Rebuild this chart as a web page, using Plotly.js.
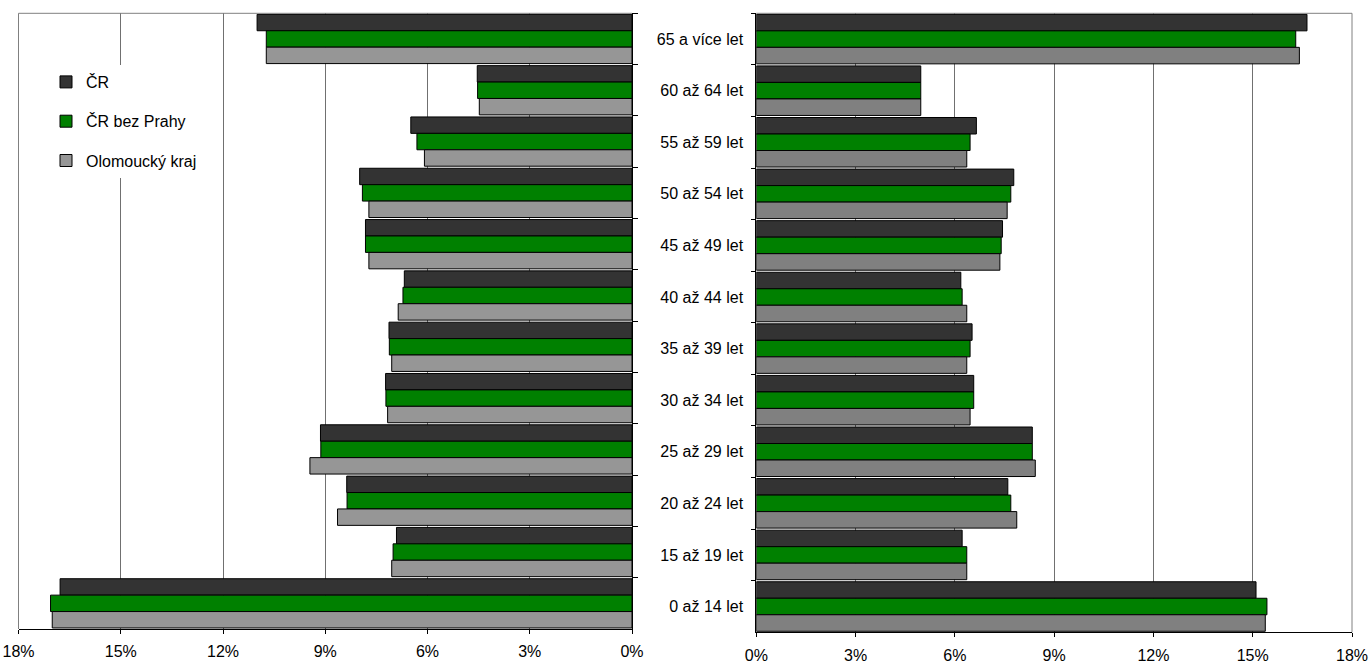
<!DOCTYPE html>
<html>
<head>
<meta charset="utf-8">
<script src="https://cdn.plot.ly/plotly-3.0.1.min.js"></script>
<style>html,body{margin:0;padding:0;background:#fff;}#chart{width:1370px;height:662px;}</style>
</head>
<body>
<div id="chart"></div>
<script>
const categories = ["65 a více let","60 až 64 let","55 až 59 let","50 až 54 let","45 až 49 let","40 až 44 let","35 až 39 let","30 až 34 let","25 až 29 let","20 až 24 let","15 až 19 let","0 až 14 let"];
const seriesNames = ["ČR", "ČR bez Prahy", "Olomoucký kraj"];

// left panel
const crLeft      = [11.00, 4.54, 6.49, 7.99, 7.82, 6.68, 7.13, 7.23, 9.14, 8.37, 6.91, 16.78];
const crBezLeft   = [10.73, 4.53, 6.31, 7.91, 7.82, 6.72, 7.12, 7.22, 9.13, 8.36, 7.01, 17.06];
const olomLeft    = [10.73, 4.48, 6.09, 7.72, 7.72, 6.86, 7.05, 7.17, 9.45, 8.64, 7.05, 17.01];
// right panel
const crRight     = [16.64, 4.97, 6.65, 7.78, 7.44, 6.18, 6.52, 6.57, 8.34, 7.60, 6.22, 15.10];
const crBezRight  = [16.30, 4.97, 6.46, 7.69, 7.40, 6.22, 6.46, 6.57, 8.34, 7.69, 6.36, 15.43];
const olomRight   = [16.41, 4.97, 6.36, 7.58, 7.36, 6.36, 6.36, 6.46, 8.43, 7.87, 6.36, 15.38];

const xTicks = [0, 3, 6, 9, 12, 15, 18];

const colorsLeft  = ["#333333", "#008000", "#969696"];
const colorsRight = ["#333333", "#008000", "#808080"];

const FONT = "Liberation Sans, Arial, sans-serif";
const W = 1370, H = 662;

const leftData = [crLeft, crBezLeft, olomLeft];
const rightData = [crRight, crBezRight, olomRight];

const traces = [];
leftData.forEach((vals, i) => {
  traces.push({
    type: "bar", orientation: "h", name: seriesNames[i],
    y: categories, x: vals, xaxis: "x", yaxis: "y",
    legendgroup: "g" + i, showlegend: true,
    marker: {color: colorsLeft[i], line: {color: "#000000", width: 1}},
    hovertemplate: "%{y}: %{x:.2f}%<extra>" + seriesNames[i] + "</extra>"
  });
});
rightData.forEach((vals, i) => {
  traces.push({
    type: "bar", orientation: "h", name: seriesNames[i],
    y: categories, x: vals, xaxis: "x2", yaxis: "y2",
    legendgroup: "g" + i, showlegend: false,
    marker: {color: colorsRight[i], line: {color: "#000000", width: 1}},
    hovertemplate: "%{y}: %{x:.2f}%<extra>" + seriesNames[i] + "</extra>"
  });
});

const xCommon = {
  tickmode: "array", tickvals: xTicks, ticktext: xTicks.map(v => v + "%"),
  showgrid: true, gridcolor: "#707070", gridwidth: 1,
  zeroline: false, showline: true, linecolor: "#000000", linewidth: 1,
  ticks: "outside", ticklen: 4, tickcolor: "#000000", tickwidth: 1,
  ticklabelstandoff: 4,
  tickfont: {family: FONT, size: 16, color: "#000000"}, fixedrange: true
};

const layout = {
  width: W, height: H,
  margin: {l: 0, r: 0, t: 0, b: 0, pad: 0},
  paper_bgcolor: "#ffffff", plot_bgcolor: "#ffffff",
  font: {family: FONT, size: 16, color: "#000000"},
  barmode: "group", bargap: 0.04, bargroupgap: 0,
  showlegend: true,
  legend: {
    x: 46 / W, y: 1 - 65 / H, xanchor: "left", yanchor: "top",
    bgcolor: "#ffffff", borderwidth: 0,
    traceorder: "grouped", tracegroupgap: 15.5,
    font: {family: FONT, size: 16, color: "#000000"}
  },
  xaxis: Object.assign({}, xCommon, {
    domain: [18.5 / W, 632 / W], range: [18, 0], anchor: "y"
  }),
  yaxis: {
    domain: [1 - 629 / H, 1 - 13.3 / H], anchor: "x", side: "right",
    type: "category", categoryorder: "array", categoryarray: categories,
    range: [categories.length - 0.5, -0.5],
    showgrid: false, zeroline: false, showline: true, linecolor: "#000000", linewidth: 1,
    ticks: "outside", ticklen: 5, tickcolor: "#000000", tickson: "boundaries",
    showticklabels: false, fixedrange: true
  },
  yaxis3: {
    overlaying: "y", anchor: "x", side: "right", type: "linear",
    range: [categories.length - 0.5, -0.5],
    tickmode: "array", tickvals: categories.map((c, i) => i),
    showgrid: false, zeroline: false, showline: false,
    ticks: "outside", ticklen: 5, tickcolor: "#000000",
    showticklabels: false, fixedrange: true
  },
  xaxis2: Object.assign({}, xCommon, {
    domain: [756.3 / W, 1352 / W], range: [0, 18], anchor: "y2"
  }),
  yaxis2: {
    domain: [1 - 632.3 / H, 1 - 13.3 / H], anchor: "x2", side: "left",
    type: "category", categoryorder: "array", categoryarray: categories,
    range: [categories.length - 0.5, -0.5],
    showgrid: false, zeroline: false, showline: true, linecolor: "#000000", linewidth: 1,
    ticks: "outside", ticklen: 4, tickcolor: "#000000", tickson: "boundaries",
    tickfont: {family: FONT, size: 16, color: "#000000"},
    ticklabelstandoff: 9, fixedrange: true
  },
  shapes: [
    {type: "line", xref: "x domain", yref: "y domain", x0: 0, x1: 1, y0: 1, y1: 1,
     line: {color: "#808080", width: 1}, layer: "above"},
    {type: "line", xref: "x domain", yref: "y domain", x0: 0, x1: 0, y0: 0, y1: 1,
     line: {color: "#808080", width: 1}, layer: "below"},
    {type: "line", xref: "x2 domain", yref: "y2 domain", x0: 0, x1: 1, y0: 1, y1: 1,
     line: {color: "#808080", width: 1}, layer: "above"},
    {type: "line", xref: "x2 domain", yref: "y2 domain", x0: 1, x1: 1, y0: 0, y1: 1,
     line: {color: "#808080", width: 1}, layer: "below"}
  ]
};

Plotly.newPlot("chart", traces, layout, {displayModeBar: false, responsive: false});
</script>
</body>
</html>
